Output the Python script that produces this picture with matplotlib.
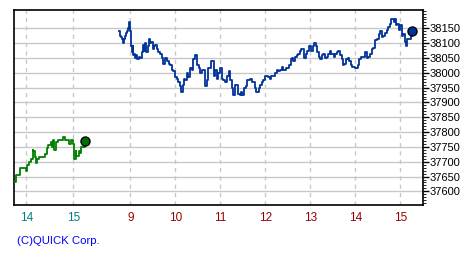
import matplotlib
matplotlib.use('Agg')
import numpy as np
import matplotlib.pyplot as plt
from matplotlib.ticker import MultipleLocator

# previous day session, minutes after 13:45
prev_min = [0, 2, 6, 7, 9, 13, 15, 16, 18, 21, 23, 24, 26, 28, 29, 31, 37, 39, 41, 43,
            46, 48, 49, 51, 53, 55, 59, 62, 64, 66, 69, 72, 74, 76, 78, 79, 82, 84, 85, 88, 90]
prev_val = [37630, 37655, 37655, 37680, 37680, 37680, 37670, 37690, 37700, 37710, 37740,
            37735, 37715, 37695, 37710, 37715, 37715, 37725, 37745, 37755, 37765, 37750,
            37775, 37740, 37765, 37775, 37775, 37785, 37775, 37775, 37760, 37775, 37760,
            37710, 37735, 37720, 37735, 37730, 37750, 37750, 37770]

# today session, minutes after 8:45
today_min = [0, 1, 3, 4, 5, 7, 8, 9, 11, 12, 13, 14, 15, 16, 17, 18, 19, 20, 21, 23,
             24, 26, 28, 30, 32, 33, 35, 36, 38, 40, 41, 43, 45, 47, 48, 50, 52, 55, 57, 59,
             61, 64, 66, 68, 70, 72, 75, 77, 79, 81, 83, 85, 87, 88, 90, 92, 95, 97, 99, 101,
             104, 106, 108, 111, 115, 117, 119, 123, 126, 128, 130, 132, 135, 137, 139, 141, 144, 146, 148, 150,
             152, 154, 155, 158, 159, 161, 163, 164, 166, 169, 171, 174, 177, 179, 181, 183, 186, 188, 190, 192,
             195, 197, 199, 201, 203, 208, 210, 212, 215, 217, 219, 221, 223, 226, 227, 229, 231, 232, 235, 237,
             239, 241, 243, 246, 247, 249, 251, 253, 256, 258, 260, 262, 264, 266, 268, 270, 272, 275, 277, 279,
             281, 283, 286, 288, 290, 292, 294, 297, 298, 300, 302, 305, 306, 309, 311, 313, 315, 318, 320, 322,
             325, 328, 330, 332, 334, 337, 339, 341, 344, 346, 348, 350, 352, 354, 357, 359, 361, 363, 366, 368,
             369, 371, 373, 374, 377, 379, 381, 382, 384, 387, 389, 390]
today_val = [38140, 38125, 38120, 38115, 38100, 38115, 38125, 38135, 38140, 38150, 38170, 38145, 38140, 38090, 38070, 38090, 38060, 38065, 38050, 38060,
             38045, 38055, 38050, 38070, 38095, 38075, 38100, 38070, 38090, 38115, 38100, 38105, 38080, 38090, 38095, 38080, 38070, 38065, 38050, 38030,
             38050, 38040, 38030, 38025, 38010, 38005, 37985, 37980, 37970, 37955, 37935, 37960, 37980, 37975, 38000, 37985, 38015, 38010, 38045, 38060,
             38025, 38015, 38000, 38010, 37955, 37975, 38015, 38040, 37990, 38010, 37980, 38000, 38015, 37980, 37975, 37970, 37990, 38005, 37975, 37950,
             37925, 37955, 37960, 37950, 37930, 37925, 37935, 37925, 37950, 37955, 37975, 37980, 37970, 37970, 37950, 37935, 37950, 37960, 37970, 37975,
             37990, 37990, 37985, 37980, 37990, 38000, 38010, 38005, 38010, 38020, 38010, 38010, 38015, 38025, 38025, 38045, 38050, 38040, 38055, 38060,
             38065, 38075, 38080, 38060, 38050, 38065, 38075, 38090, 38075, 38090, 38100, 38090, 38070, 38055, 38045, 38060, 38065, 38050, 38055, 38065,
             38075, 38065, 38055, 38065, 38070, 38075, 38060, 38045, 38025, 38030, 38045, 38050, 38040, 38025, 38020, 38020, 38015, 38025, 38045, 38055,
             38055, 38070, 38050, 38055, 38065, 38080, 38085, 38110, 38115, 38130, 38140, 38120, 38125, 38135, 38145, 38155, 38165, 38180, 38170, 38180,
             38160, 38165, 38145, 38160, 38125, 38130, 38105, 38090, 38115, 38115, 38125, 38140]

prev_hours = [14, 15]
today_hours = [9, 10, 11, 12, 13, 14, 15]
y_ticks = [37600, 37650, 37700, 37750, 37800, 37850, 37900, 37950, 38000, 38050, 38100, 38150]

# axis position: today in clock hours, previous day squeezed in before 9:00
P14 = 6.689
def prev_pos(clock):
    return P14 + (np.asarray(clock) - 14) * 47 / 45

px = prev_pos(13.75 + np.array(prev_min) / 60)
tx = 8.75 + np.array(today_min) / 60

fig = plt.figure(figsize=(4.75, 2.6), dpi=100)
ax = fig.add_axes([14 / 475, 1 - 205 / 260, 409 / 475, 195 / 260])

for y in y_ticks:
    ax.axhline(y, color='#c8c8c8', lw=1.0, zorder=1)
for x in list(prev_pos(prev_hours)) + today_hours:
    ax.axvline(x, color='#c8c8c8', lw=1.0, ls=(0, (3, 3)), zorder=1)

ax.plot(px, prev_val, color='#008000', lw=1.3, drawstyle='steps-post', zorder=3)
ax.plot(tx, today_val, color='#003399', lw=1.3, drawstyle='steps-post', zorder=3)
ax.plot(px[-1], prev_val[-1], 'o', ms=6.5, mfc='#007000', mec='black', mew=1, zorder=4)
ax.plot(tx[-1], today_val[-1], 'o', ms=6.5, mfc='#0033a0', mec='black', mew=1, zorder=4)

ax.set_xlim(6.416, 15.504)
ax.set_ylim(37554, 38212)

ax.yaxis.tick_right()
ax.set_yticks(y_ticks)
ax.yaxis.set_minor_locator(MultipleLocator(10))
ax.tick_params(axis='y', which='major', length=4, width=1, labelsize=8, pad=1)
ax.tick_params(axis='y', which='minor', length=2, width=0.6)
ax.tick_params(axis='y', labelfontfamily='Liberation Sans')

ax.set_xticks([])
for h, x in zip(prev_hours, prev_pos(prev_hours)):
    ax.text(x, -0.065, str(h), transform=ax.get_xaxis_transform(), ha='center', va='center',
            fontsize=8.5, color='#008080', family='Liberation Sans')
for h in today_hours:
    ax.text(h, -0.065, str(h), transform=ax.get_xaxis_transform(), ha='center', va='center',
            fontsize=8.5, color='#990000', family='Liberation Sans')

for s in ax.spines.values():
    s.set_linewidth(1.2)
    s.set_color('black')

fig.text(17 / 475, 1 - 241 / 260, '(C)QUICK Corp.', color='#0000ff', fontsize=8.2,
         family='Liberation Sans', va='center', ha='left')

plt.savefig('out.png', dpi=100)
